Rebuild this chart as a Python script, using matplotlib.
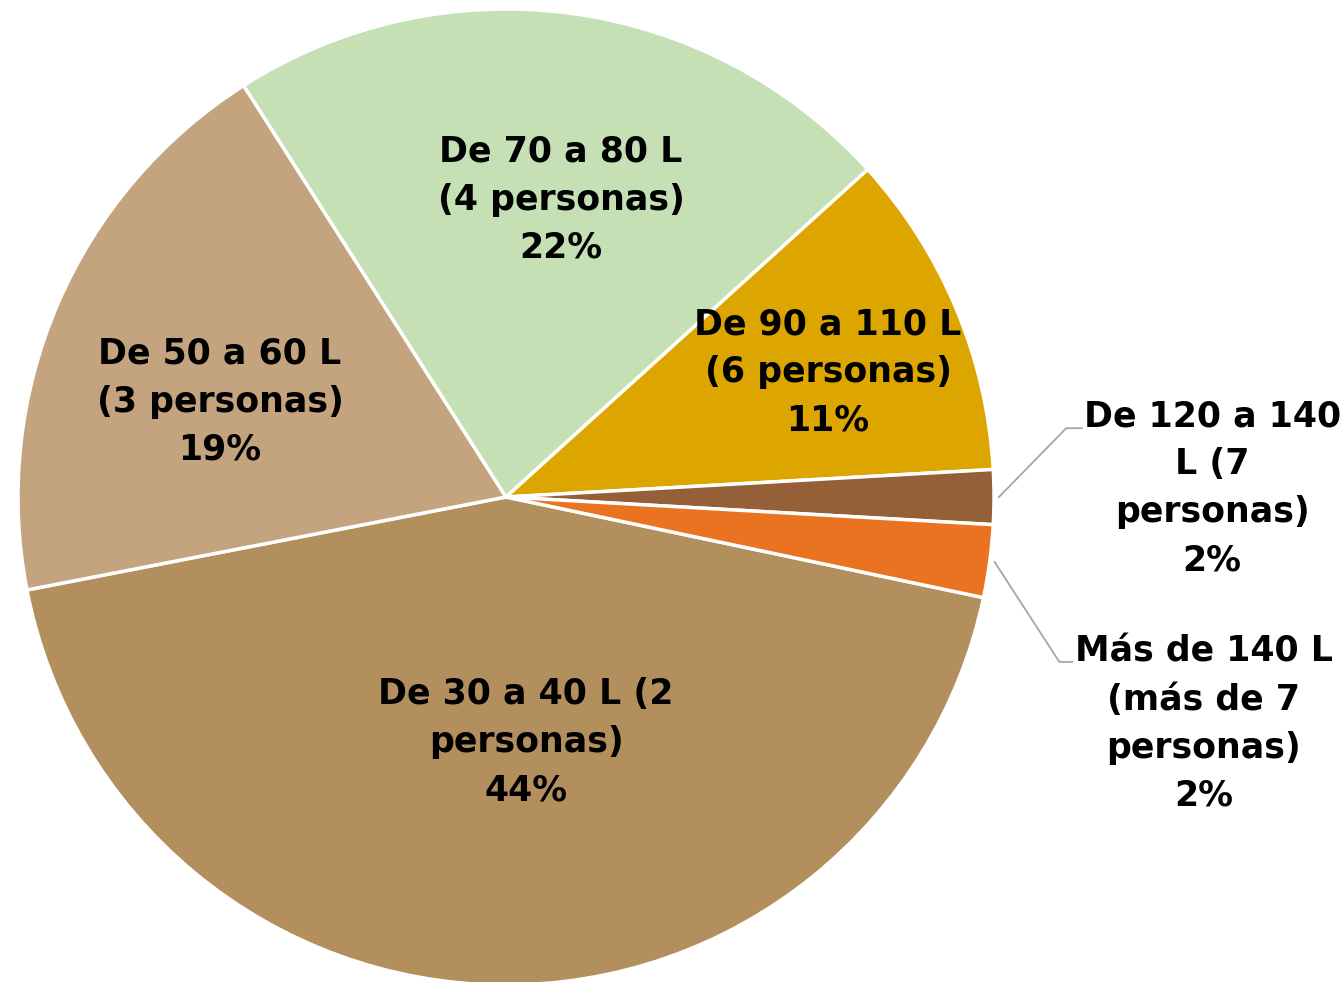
import matplotlib.pyplot as plt
import numpy as np

## Pie of tank sizes by household size
labels = ["De 30 a 40 L (2\npersonas)\n44%",
          "De 50 a 60 L\n(3 personas)\n19%",
          "De 70 a 80 L\n(4 personas)\n22%",
          "De 90 a 110 L\n(6 personas)\n11%",
          "De 120 a 140\nL (7\npersonas)\n2%",
          "Más de 140 L\n(más de 7\npersonas)\n2%"]
values = [43.6, 19.0, 22.3, 10.8, 1.8, 2.4]
colors = ["#B38F5D", "#C4A47F", "#C5E0B4", "#DDA500", "#955F38", "#E97320"]

# label centres (data units, pie radius = 1)
label_pos = [(0.041, -0.502), (-0.586, 0.195), (0.113, 0.609),
             (0.660, 0.256), (1.447, 0.018), (1.430, -0.465)]
# leader line elbows for the two outside labels
elbows = {4: [(1.148, 0.141), (1.180, 0.141)],
          5: [(1.134, -0.338), (1.160, -0.338)]}

W, H = 1342, 982
cx, cy, R = 506, 497, 488
fig = plt.figure(figsize=(W / 100, H / 100), dpi=100)
ax = fig.add_axes([0, 0, 1, 1])

wedges, _ = ax.pie(values, colors=colors, startangle=-11.9, counterclock=False,
                   radius=1, center=(0, 0),
                   wedgeprops=dict(edgecolor="white", linewidth=2.5))

for i, (txt, (x, y)) in enumerate(zip(labels, label_pos)):
    ax.text(x, y, txt, ha="center", va="center", fontsize=25,
            fontweight="bold", linespacing=1.52, color="black")
    if i in elbows:
        w = wedges[i]
        mid = np.deg2rad((w.theta1 + w.theta2) / 2)
        pts = [(1.01 * np.cos(mid), 1.01 * np.sin(mid))] + elbows[i]
        xs, ys = zip(*pts)
        ax.plot(xs, ys, color="#A6A6A6", linewidth=1.3)

ax.set_xlim(-cx / R, (W - cx) / R)
ax.set_ylim(-(H - cy) / R, cy / R)
ax.set_aspect("auto")
ax.axis("off")

plt.savefig("out.png", dpi=100)
